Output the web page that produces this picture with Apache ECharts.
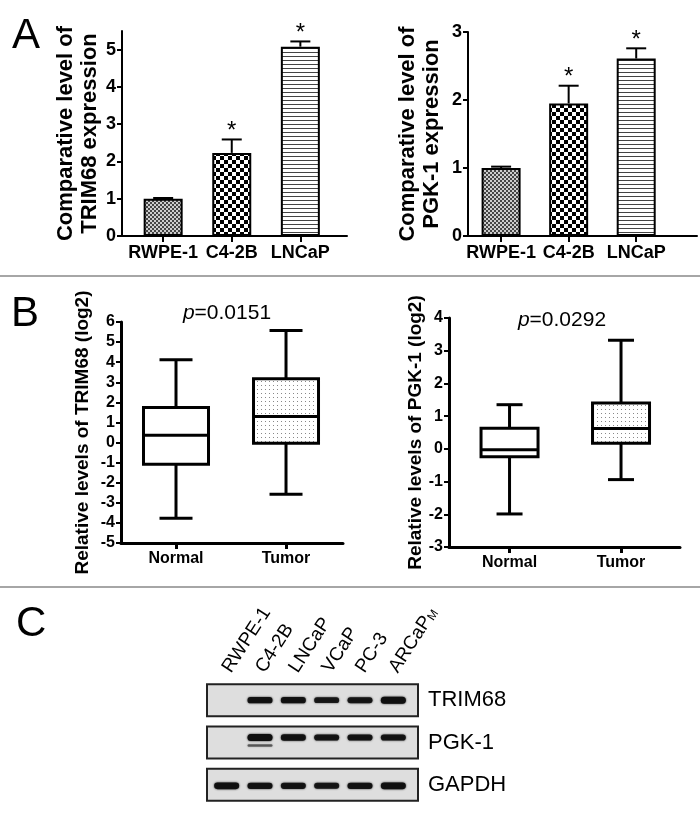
<!DOCTYPE html>
<html><head><meta charset="utf-8">
<script src="https://cdn.jsdelivr.net/npm/echarts@6/dist/echarts.min.js"></script>
<style>html,body{margin:0;padding:0;background:#fff}#c{width:700px;height:820px}</style>
</head><body><div id="c"></div>
<script>
// ---------- Panel A data ----------
const cellLinesA = ['RWPE-1', 'C4-2B', 'LNCaP'];
const trim68Mean = [1.00, 2.23, 5.08];
const trim68Err = [0.02, 0.36, 0.14];
const pgk1Mean = [1.00, 1.95, 2.61];
const pgk1Err = [0.02, 0.26, 0.15];
const sigA = ['', '*', '*'];
const trim68TicksA = [0, 1, 2, 3, 4, 5];
const pgk1TicksA = [0, 1, 2, 3];
// ---------- Panel B data ----------
const groupsB = ['Normal', 'Tumor'];
// [min, Q1, median, Q3, max]
const trim68Box = [[-3.77, -1.08, 0.36, 1.74, 4.12], [-2.57, -0.03, 1.30, 3.18, 5.58]];
const pgk1Box = [[-1.99, -0.24, -0.03, 0.63, 1.35], [-0.94, 0.17, 0.62, 1.40, 3.32]];
const pValues = ['0.0151', '0.0292'];
// ---------- Panel C data ----------
const lanesC = ['RWPE-1', 'C4-2B', 'LNCaP', 'VCaP', 'PC-3', 'ARCaPM'];
const proteinsC = ['TRIM68', 'PGK-1', 'GAPDH'];
const trim68Bands = [0, 0.85, 0.85, 0.7, 0.75, 1.0];
const pgk1Bands = [0, 1.0, 0.85, 0.8, 0.8, 0.8];
const pgk1LowerBands = [0, 0.45, 0, 0, 0, 0];
const gapdhBands = [0.9, 0.85, 0.8, 0.75, 0.85, 0.95];

const FONT = 'Liberation Sans';

function makePattern(w, h, draw) {
  const c = document.createElement('canvas'); c.width = w; c.height = h;
  const g = c.getContext('2d'); g.fillStyle = '#fff'; g.fillRect(0, 0, w, h); draw(g);
  return { image: c, repeat: 'repeat' };
}
const patFine = makePattern(4, 4, g => { g.fillStyle = '#444'; g.fillRect(0, 0, 2, 2); g.fillRect(2, 2, 2, 2); g.fillStyle = '#ccc'; g.fillRect(2, 0, 2, 2); g.fillRect(0, 2, 2, 2); });
const patCheck = makePattern(8, 8, g => { g.fillStyle = '#000'; g.fillRect(0, 0, 4, 4); g.fillRect(4, 4, 4, 4); });
const patStripe = makePattern(4, 4, g => { g.fillStyle = '#444'; g.fillRect(0, 0, 4, 1); });
const patDots = makePattern(4, 4, g => { g.fillStyle = '#888'; g.fillRect(1, 1, 1, 1); });
const barPatterns = [patFine, patCheck, patStripe];

const chart = echarts.init(document.getElementById('c'), null, { renderer: 'canvas' });

function yAxisA(gridIndex, max, ticks, name, gap) {
  return {
    gridIndex, type: 'value', min: 0, max,
    name, nameLocation: 'middle', nameGap: gap,
    nameTextStyle: { fontFamily: FONT, fontWeight: 'bold', fontSize: 22, lineHeight: 24, color: '#000' },
    axisLine: { show: true, onZero: false, lineStyle: { color: '#000', width: 2 } },
    axisTick: { show: true, length: 5, customValues: ticks, lineStyle: { color: '#000', width: 2 } },
    axisLabel: { customValues: ticks, fontFamily: FONT, fontWeight: 'bold', fontSize: 18, color: '#000', margin: 6 },
    splitLine: { show: false }
  };
}
function xAxisCat(gridIndex, min, max, cats, fs, w) {
  const vals = cats.map((_, i) => i);
  return {
    gridIndex, type: 'value', min, max,
    axisLine: { show: true, onZero: false, lineStyle: { color: '#000', width: w } },
    axisTick: { show: true, length: 6, customValues: vals, lineStyle: { color: '#000', width: w } },
    axisLabel: { customValues: vals, formatter: v => cats[Math.round(v)], fontFamily: FONT, fontWeight: 'bold', fontSize: fs, color: '#000', margin: 8 },
    splitLine: { show: false }
  };
}
function yAxisB(gridIndex, min, max, name, gap) {
  return {
    gridIndex, type: 'value', min, max, interval: 1,
    name, nameLocation: 'middle', nameGap: gap,
    nameTextStyle: { fontFamily: FONT, fontWeight: 'bold', fontSize: 19, color: '#000' },
    axisLine: { show: true, onZero: false, lineStyle: { color: '#000', width: 3 } },
    axisTick: { show: true, length: 5, lineStyle: { color: '#000', width: 2 } },
    axisLabel: { fontFamily: FONT, fontWeight: 'bold', fontSize: 16, color: '#000', margin: 6 },
    splitLine: { show: false }
  };
}

function barSeries(idx, means) {
  return {
    type: 'bar', xAxisIndex: idx, yAxisIndex: idx, barWidth: 39,
    data: means.map((v, i) => ({ value: [i, v], itemStyle: { color: barPatterns[i] } })),
    itemStyle: { borderColor: '#000', borderWidth: 2 }, silent: true, animation: false
  };
}
function errSeries(idx, means, errs) {
  return {
    type: 'custom', xAxisIndex: idx, yAxisIndex: idx, z: 5, silent: true, animation: false,
    data: means.map((v, i) => [i, v, v + errs[i]]),
    renderItem: (params, api) => {
      const x = api.value(0);
      const p0 = api.coord([x, api.value(1)]);
      const p1 = api.coord([x, api.value(2)]);
      const s = sigA[params.dataIndex];
      return {
        type: 'group', children: [
          { type: 'line', shape: { x1: p0[0], y1: p0[1], x2: p1[0], y2: p1[1] }, style: { stroke: '#000', lineWidth: 2 } },
          { type: 'line', shape: { x1: p1[0] - 10, y1: p1[1], x2: p1[0] + 10, y2: p1[1] }, style: { stroke: '#000', lineWidth: 2 } },
          { type: 'text', style: { text: s, x: p1[0], y: p1[1] + 4, align: 'center', verticalAlign: 'bottom', font: '24px "' + FONT + '"', fill: '#000' } }
        ]
      };
    }
  };
}
function boxSeries(idx, boxes, boxW, capW) {
  return {
    type: 'custom', xAxisIndex: idx, yAxisIndex: idx, silent: true, animation: false,
    data: boxes.map((b, i) => [i].concat(b)),
    renderItem: (params, api) => {
      const x = api.value(0);
      const c = v => api.coord([x, v]);
      const mn = c(api.value(1)), q1 = c(api.value(2)), md = c(api.value(3)), q3 = c(api.value(4)), mx = c(api.value(5));
      const cx = mn[0], hw = boxW / 2, cw = capW / 2;
      const st = { stroke: '#000', lineWidth: 3 };
      return {
        type: 'group', children: [
          { type: 'line', shape: { x1: cx, y1: q3[1], x2: cx, y2: mx[1] }, style: st },
          { type: 'line', shape: { x1: cx, y1: q1[1], x2: cx, y2: mn[1] }, style: st },
          { type: 'line', shape: { x1: cx - cw, y1: mx[1], x2: cx + cw, y2: mx[1] }, style: st },
          { type: 'line', shape: { x1: cx - cw, y1: mn[1], x2: cx + cw, y2: mn[1] }, style: st },
          { type: 'rect', shape: { x: cx - hw, y: q3[1], width: boxW, height: q1[1] - q3[1] }, style: { fill: params.dataIndex === 1 ? patDots : '#fff', stroke: '#000', lineWidth: 3 } },
          { type: 'line', shape: { x1: cx - hw, y1: md[1], x2: cx + hw, y2: md[1] }, style: st }
        ]
      };
    }
  };
}

const bandSets = [trim68Bands, pgk1Bands, gapdhBands];
const bandOffset = [0, -5, 1];
const bandData = [];
bandSets.forEach((arr, p) => arr.forEach((v, l) => { if (v > 0) bandData.push([l, p, v, 0]); }));
pgk1LowerBands.forEach((v, l) => { if (v > 0) bandData.push([l, 1, v, 1]); });

const option = {
  backgroundColor: '#fff',
  animation: false,
  grid: [
    { left: 122, top: 31, width: 225, height: 205 },
    { left: 468, top: 32, width: 229, height: 204 },
    { left: 121, top: 322, width: 222, height: 221 },
    { left: 449, top: 318, width: 231, height: 229 },
    { left: 210, top: 679, width: 200, height: 127 }
  ],
  xAxis: [
    xAxisCat(0, -0.6, 2.68, cellLinesA, 18, 2),
    xAxisCat(1, -0.49, 2.90, cellLinesA, 18, 2),
    xAxisCat(2, -0.5, 1.518, groupsB, 16, 3),
    xAxisCat(3, -0.543, 1.529, groupsB, 16, 3),
    {
      gridIndex: 4, type: 'category', data: lanesC, position: 'top',
      axisLine: { show: false }, axisTick: { show: false },
      axisLabel: {
        interval: 0, rotate: -57, margin: 8, fontFamily: FONT, fontSize: 19, color: '#000',
        formatter: v => v === 'ARCaPM' ? 'ARCaP{sub|M}' : v,
        rich: { sub: { fontFamily: FONT, fontSize: 12, color: '#000', padding: [6, 0, 0, 0] } }
      }
    }
  ],
  yAxis: [
    yAxisA(0, 5.5, trim68TicksA, 'Comparative level of\nTRIM68 expression', 18),
    yAxisA(1, 3, pgk1TicksA, 'Comparative level of\nPGK-1 expression', 24),
    yAxisB(2, -5, 6, 'Relative levels of TRIM68 (log2)', 29),
    yAxisB(3, -3, 4, 'Relative levels of PGK-1 (log2)', 22),
    {
      gridIndex: 4, type: 'category', data: proteinsC, inverse: true, position: 'right',
      axisLine: { show: false }, axisTick: { show: false },
      axisLabel: { fontFamily: FONT, fontSize: 22, color: '#000', margin: 18 }
    }
  ],
  series: [
    barSeries(0, trim68Mean), errSeries(0, trim68Mean, trim68Err),
    barSeries(1, pgk1Mean), errSeries(1, pgk1Mean, pgk1Err),
    boxSeries(2, trim68Box, 65, 33),
    boxSeries(3, pgk1Box, 57, 26),
    {
      type: 'custom', xAxisIndex: 4, yAxisIndex: 4, silent: true, z: 1,
      data: proteinsC.map((_, i) => [0, i]),
      renderItem: (params, api) => {
        const p0 = api.coord([0, api.value(1)]);
        const p5 = api.coord([lanesC.length - 1, api.value(1)]);
        const lw = api.size([1, 0])[0];
        const x0 = p0[0] - lw * 0.59, x1 = p5[0] + lw * 0.74;
        return { type: 'rect', shape: { x: x0, y: p0[1] - 16, width: x1 - x0, height: 32 }, style: { fill: '#dedede', stroke: '#222', lineWidth: 2 } };
      }
    },
    {
      type: 'custom', xAxisIndex: 4, yAxisIndex: 4, silent: true, z: 3,
      data: bandData,
      renderItem: (params, api) => {
        const p = api.coord([api.value(0), api.value(1)]);
        const v = api.value(2), lower = api.value(3);
        const h = lower ? 2.5 : 3 + 4 * v;
        const w = 25;
        const cy = p[1] + bandOffset[api.value(1)] + (lower ? 8 : 0);
        const a = lower ? 0.55 : 0.6 + 0.4 * v;
        return { type: 'rect', shape: { x: p[0] - w / 2, y: cy - h / 2, width: w, height: h, r: h / 2 },
          style: { fill: 'rgba(15,15,15,' + a + ')', shadowBlur: 2, shadowColor: 'rgba(15,15,15,' + a + ')' } };
      }
    }
  ],
  graphic: [
    { type: 'line', shape: { x1: 0, y1: 276, x2: 700, y2: 276 }, style: { stroke: '#888', lineWidth: 1.5 } },
    { type: 'line', shape: { x1: 0, y1: 587, x2: 700, y2: 587 }, style: { stroke: '#888', lineWidth: 1.5 } },
    { type: 'text', left: 12, top: 15, style: { text: 'A', font: '42px "' + FONT + '"', fill: '#000' } },
    { type: 'text', left: 11, top: 293, style: { text: 'B', font: '42px "' + FONT + '"', fill: '#000' } },
    { type: 'text', left: 16, top: 603, style: { text: 'C', font: '42px "' + FONT + '"', fill: '#000' } },
    { type: 'text', x: 227, y: 313, style: { text: '{i|p}{n|=' + pValues[0] + '}', align: 'center', verticalAlign: 'middle',
      rich: { i: { fontFamily: FONT, fontStyle: 'italic', fontSize: 21, fill: '#000' }, n: { fontFamily: FONT, fontSize: 21, fill: '#000' } } } },
    { type: 'text', x: 562, y: 320, style: { text: '{i|p}{n|=' + pValues[1] + '}', align: 'center', verticalAlign: 'middle',
      rich: { i: { fontFamily: FONT, fontStyle: 'italic', fontSize: 21, fill: '#000' }, n: { fontFamily: FONT, fontSize: 21, fill: '#000' } } } }
  ]
};
chart.setOption(option);
</script></body></html>
